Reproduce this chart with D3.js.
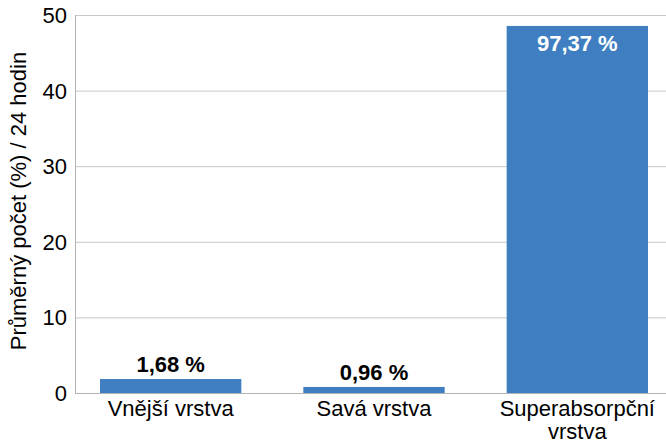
<!DOCTYPE html>
<html>
<head>
<meta charset="utf-8">
<script src="https://cdn.jsdelivr.net/npm/d3@7"></script>
<style>
  body { margin: 0; background: #fff; }
  svg { display: block; font-family: "Liberation Sans", Arial, sans-serif; }
</style>
</head>
<body>
<svg width="666" height="441"></svg>
<script>
"use strict";

// data
const categories = ["Vnější vrstva", "Savá vrstva", "Superabsorpční vrstva"];
const barValues = [1.85, 0.8, 48.55];
const barLabels = ["1,68 %", "0,96 %", "97,37 %"];
const yTicks = [0, 10, 20, 30, 40, 50];
const yTitle = "Průměrný počet (%) / 24 hodin";

(function() {
  const svg = d3.select("svg");
  const width = +svg.attr("width");

  const plotLeft = 75, plotTop = 15, plotBottom = 393;
  const fs = "22px";

  const x = d3.scaleBand()
    .domain(categories)
    .range([plotLeft, 673])
    .paddingInner(0.305)
    .paddingOuter(0.123);

  const y = d3.scaleLinear().domain([0, 50]).range([plotBottom, plotTop]);

  // gridlines
  svg.append("g")
    .selectAll("line")
    .data(yTicks)
    .enter().append("line")
      .attr("x1", plotLeft)
      .attr("x2", width)
      .attr("y1", d => y(d) + 0.5)
      .attr("y2", d => y(d) + 0.5)
      .attr("stroke", d => d === 0 ? "#b4b4b4" : "#c8c8c8")
      .attr("stroke-width", 1);

  // y axis line
  svg.append("line")
    .attr("x1", plotLeft + 0.5).attr("x2", plotLeft + 0.5)
    .attr("y1", plotTop).attr("y2", plotBottom + 0.5)
    .attr("stroke", "#b4b4b4");

  // y tick labels
  svg.append("g")
    .selectAll("text")
    .data(yTicks)
    .enter().append("text")
      .attr("x", plotLeft - 8)
      .attr("y", d => y(d))
      .attr("dy", "0.36em")
      .attr("text-anchor", "end")
      .style("font-size", fs)
      .attr("fill", "#000")
      .text(d => d);

  // y axis title
  svg.append("text")
    .attr("transform", "translate(26," + ((plotTop + plotBottom) / 2 - 3) + ") rotate(-90)")
    .attr("text-anchor", "middle")
    .style("font-size", fs)
    .attr("fill", "#000")
    .text(yTitle);

  // bars
  svg.append("g")
    .selectAll("rect")
    .data(barValues)
    .enter().append("rect")
      .attr("x", (d, i) => x(categories[i]))
      .attr("width", x.bandwidth())
      .attr("y", d => y(d))
      .attr("height", d => y(0) - y(d))
      .attr("fill", "#3f7fc1");

  // value labels
  svg.append("g")
    .selectAll("text")
    .data(barValues)
    .enter().append("text")
      .attr("x", (d, i) => x(categories[i]) + x.bandwidth() / 2)
      .attr("y", d => d > 10 ? y(d) + 25 : y(d) - 7)
      .attr("text-anchor", "middle")
      .style("font-size", fs)
      .style("font-weight", "bold")
      .attr("fill", d => d > 10 ? "#fff" : "#000")
      .text((d, i) => barLabels[i]);

  // category labels (long one wraps)
  const catG = svg.append("g");
  categories.forEach(c => {
    const words = c === "Superabsorpční vrstva" ? ["Superabsorpční", "vrstva"] : [c];
    const t = catG.append("text")
      .attr("x", x(c) + x.bandwidth() / 2)
      .attr("y", 416)
      .attr("text-anchor", "middle")
      .style("font-size", fs)
      .attr("fill", "#000");
    words.forEach((w, i) => {
      t.append("tspan")
        .attr("x", x(c) + x.bandwidth() / 2)
        .attr("dy", i === 0 ? 0 : 23)
        .text(w);
    });
  });
})();
</script>
</body>
</html>
